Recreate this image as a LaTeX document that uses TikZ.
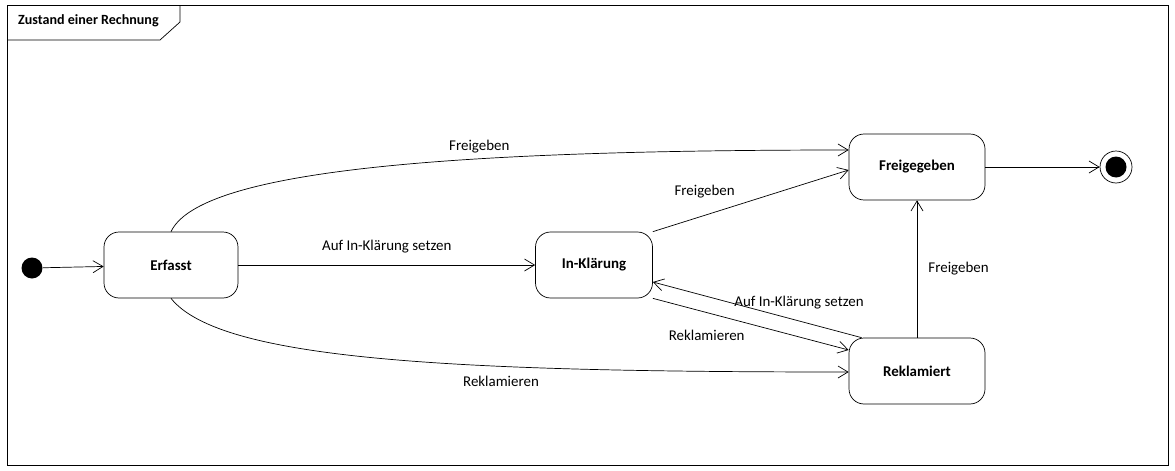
\documentclass[tikz,border=0pt]{standalone}
\usepackage{fontspec}
\setmainfont{Carlito}
\usetikzlibrary{arrows.meta}
\begin{document}
\begin{tikzpicture}[x=0.02cm,y=-0.02cm,font=\fontsize{8.5}{10}\selectfont]

      \tikzset{zustand/.style={draw, rounded corners=.3cm, minimum width=2.68cm, minimum height=1.32cm, font=\fontsize{8.5}{10}\selectfont\bfseries},
               uebergang/.style={-{Straight Barb[length=2mm,width=2.4mm]}, thin}}
      \useasboundingbox (0,0) rectangle (1175,470);
% Rahmen
      	\draw (7,5) rectangle (1168,465);
      	\draw (7,40) -- (160,40) -- (180,22) -- (180,5);
      	\node[anchor=west, font=\fontsize{8}{9}\selectfont\bfseries] (titel) at (12,21) {Zustand einer Rechnung};
% Zustaende
      	\node[circle, fill=black, inner sep=0pt, minimum size=.42cm] (start) at (32,268) {};
      	\node[zustand] (erfasst) at (171,265) {Erfasst};
      	\node[zustand, minimum width=2.34cm] (klaerung) at (594,265) {In-Klärung};
      	\node[zustand, minimum width=2.72cm] (frei) at (917,167) {Freigegeben};
      	\node[zustand, minimum width=2.72cm] (rekl) at (917,371) {Reklamiert};
      	\node[circle, draw, inner sep=0pt, minimum size=.64cm] (ende) at (1116,167) {};
      	\node[circle, fill=black, inner sep=0pt, minimum size=.42cm] at (ende) {};
% Uebergaenge
		\draw[uebergang] (start) -- (erfasst);
		\draw[uebergang] (erfasst) -- node[above=3pt] {Auf In-Klärung setzen} (klaerung);
		\draw[uebergang] (erfasst.north) .. controls (200,170) and (450,150) .. node[above, pos=.64] {Freigeben} (frei.west |- 0,150);
		\draw[uebergang] (erfasst.south) .. controls (220,360) and (450,372) .. node[below=2pt, pos=.66] {Reklamieren} (rekl.west |- 0,372);
		\draw[uebergang] (klaerung.north east) -- node[above left, pos=.45] {Freigeben} (frei.west |- 0,170);
		\draw[uebergang] (rekl.north west) ++(13,0) coordinate (rk) (rk) -- node[above=3pt, pos=.3] {Auf In-Klärung setzen} (klaerung.east |- 0,282);
		\draw[uebergang] (klaerung.south east) -- node[below left, pos=.5] {Reklamieren} (rekl.west |- 0,350);
		\draw[uebergang] (rekl) -- node[right=3pt] {Freigeben} (frei);
		\draw[uebergang] (frei) -- (ende);

\end{tikzpicture}
\end{document}
